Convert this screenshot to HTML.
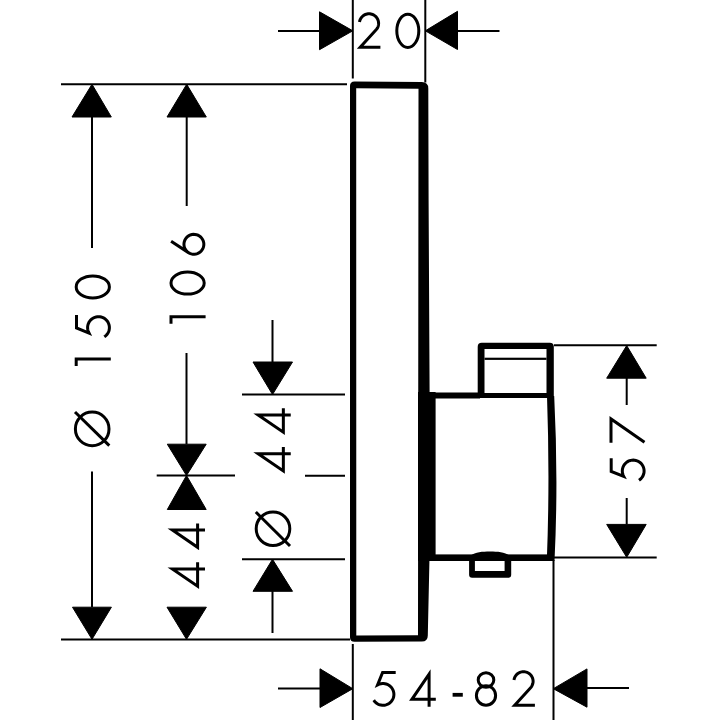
<!DOCTYPE html>
<html><head><meta charset="utf-8"><style>html,body{margin:0;padding:0;background:#fff;width:720px;height:720px;overflow:hidden}svg{display:block}</style></head>
<body><svg width="720" height="720" viewBox="0 0 720 720">
<g stroke="#000" stroke-width="2" fill="none" stroke-linecap="butt">
<line x1="278" y1="31" x2="320" y2="31"/>
<line x1="352.8" y1="0" x2="352.8" y2="78.5"/>
<line x1="425.3" y1="0" x2="425.3" y2="82.5"/>
<line x1="457" y1="31" x2="499.5" y2="31"/>
<line x1="61" y1="84.3" x2="347" y2="84.3"/>
<line x1="61" y1="639.5" x2="350" y2="639.5"/>
<line x1="92" y1="117" x2="92" y2="248"/>
<line x1="92" y1="471.5" x2="92" y2="607"/>
<line x1="186.7" y1="117" x2="186.7" y2="206"/>
<line x1="186.5" y1="353" x2="186.5" y2="444"/>
<line x1="156.7" y1="475.5" x2="235" y2="475.5"/>
<line x1="305" y1="475.7" x2="345" y2="475.7"/>
<line x1="272.5" y1="320" x2="272.5" y2="362"/>
<line x1="242" y1="394.5" x2="345" y2="394.5"/>
<line x1="242" y1="559.3" x2="345" y2="559.3"/>
<line x1="272.5" y1="591" x2="272.5" y2="633"/>
<line x1="554" y1="345.3" x2="656.7" y2="345.3"/>
<line x1="626.7" y1="378" x2="626.7" y2="405"/>
<line x1="626.7" y1="498" x2="626.7" y2="524.4"/>
<line x1="553.5" y1="557.5" x2="656.7" y2="557.5"/>
<line x1="352.8" y1="644" x2="352.8" y2="720"/>
<line x1="553.5" y1="560" x2="553.5" y2="720"/>
<line x1="278" y1="688.5" x2="320" y2="688.5"/>
<line x1="587" y1="688" x2="629" y2="688"/>
<circle cx="92.2" cy="428.9" r="16.8" stroke-width="3"/>
<line x1="75" y1="412" x2="109.3" y2="445.6" stroke-width="3"/>
<circle cx="273" cy="528.8" r="16.8" stroke-width="3"/>
<line x1="255.8" y1="512" x2="290" y2="546" stroke-width="3"/>
</g>
<g fill="#000" stroke="#000" stroke-width="1" stroke-linejoin="round">
<polygon points="319.5,11.8 319.5,49.7 352.8,30.8"/>
<polygon points="457.5,11.3 457.5,49.5 425.3,30.8"/>
<polygon points="92,84.3 72,117 111.3,117"/>
<polygon points="92,639.3 72.5,607.2 111.4,607.2"/>
<polygon points="186.7,84.3 167,117 206.3,117"/>
<polygon points="186.5,475.5 167.3,444.2 206.2,444.2"/>
<polygon points="186.5,475.5 167.3,509.5 206.2,509.5"/>
<polygon points="186.5,639.3 167,607.2 206.4,607.2"/>
<polygon points="272.5,394.5 253,362 292.5,362"/>
<polygon points="272.5,559.3 253,591.3 292.5,591.3"/>
<polygon points="626.7,345.6 606.7,378.2 646.2,378.2"/>
<polygon points="626.7,557.3 606.7,524.4 646.2,524.4"/>
<polygon points="352.8,688.7 320,668.8 320,707.5"/>
<polygon points="553.3,688.7 587,668.9 587,707.2"/>
</g>
<g fill="#000">
<path fill-rule="evenodd" d="M354.5,81.5 L421.8,82 Q428.3,82 428.3,88.5 L428.6,200 L429.6,390 L429.4,562 L427.8,635.5 Q427.8,641.5 421.8,641.5 L354.5,641.8 Q350,641.8 350,637.3 L350,86 Q350,81.5 354.5,81.5 Z M356.2,88.2 L418.5,88.8 L418,635.2 L356.3,635.5 Z"/>
<rect x="418" y="392" width="17.6" height="169"/>
<rect x="428" y="392.5" width="52" height="6"/>
<path fill-rule="evenodd" d="M481.7,342.7 L549.8,342.7 Q553.8,342.7 553.8,346.7 L553.8,398 L477.7,398 L477.7,346.7 Q477.7,342.7 481.7,342.7 Z M484.5,348.9 L546.5,348.9 L546.5,393 L484.5,393 Z"/>
<rect x="484.5" y="357.7" width="62" height="2.2"/>
<path d="M547,396 L554.2,396 Q558.5,480 554.5,561 L546.8,561 Q550,480 547,396 Z"/>
<rect x="428" y="554.4" width="126" height="6.6"/>
<path d="M470,556 C476,552 482,551.6 490,551.6 C498,551.6 504,552 510,556 Z"/>
<path fill-rule="evenodd" d="M469.1,558 L511.2,558 L511.2,574.8 Q511.2,577.8 508.2,577.8 L472.1,577.8 Q469.1,577.8 469.1,574.8 Z M474.9,559.3 L504.6,559.3 L504.6,571 L474.9,571 Z"/>
</g>
<g fill="none" stroke="#000" stroke-width="3" stroke-linecap="butt" stroke-linejoin="miter" stroke-miterlimit="10">
<path transform="translate(357.9,48.8)" d="M1.59,-26.74 L1.76,-27.63 L2.02,-28.51 L2.35,-29.36 L2.77,-30.17 L3.26,-30.94 L3.82,-31.66 L4.45,-32.32 L5.14,-32.92 L5.88,-33.46 L6.67,-33.92 L7.50,-34.30 L8.36,-34.60 L9.24,-34.82 L10.15,-34.95 L11.06,-35.00 L11.97,-34.96 L12.87,-34.83 L13.76,-34.62 L14.63,-34.33 L15.46,-33.95 L16.25,-33.50 L17.00,-32.98 L17.69,-32.38 L18.32,-31.72 L18.89,-31.01 L19.39,-30.24 L19.81,-29.43 L20.15,-28.59 L20.42,-27.71 L20.59,-26.82 L20.69,-25.91 L20.69,-25.00 L20.61,-24.09 L20.44,-23.19 L20.19,-22.31 L19.86,-21.46 L19.44,-20.65 L18.95,-19.88 L18.39,-19.16 L17.77,-18.49 L2.30,-1.50 L22.50,-1.50" stroke-width="3.0"/>
<path transform="translate(395.3,48.8)" d="M23.50,-18.00 A11 16.6 0 1 1 1.50,-18.00 A11 16.6 0 1 1 23.50,-18.00 Z" stroke-width="3.0"/>
<path transform="translate(372.3,706.7)" d="M23.40,-34.30 L10.30,-34.30 L5.25,-21.74 L6.39,-22.31 L7.59,-22.75 L8.83,-23.04 L10.09,-23.18 L11.37,-23.18 L12.63,-23.03 L13.87,-22.73 L15.06,-22.29 L16.20,-21.71 L17.26,-21.01 L18.23,-20.18 L19.10,-19.25 L19.85,-18.22 L20.48,-17.11 L20.97,-15.94 L21.33,-14.71 L21.54,-13.46 L21.60,-12.19 L21.51,-10.91 L21.28,-9.66 L20.90,-8.45 L20.38,-7.28 L19.73,-6.19 L18.95,-5.18 L18.06,-4.26 L17.08,-3.46 L16.00,-2.78 L14.85,-2.22 L13.65,-1.81 L12.41,-1.53 L11.14,-1.41 L9.86,-1.43 L8.60,-1.60 L7.37,-1.92 L6.18,-2.38 L5.05,-2.98 L4.00,-3.70 L3.05,-4.54 L2.19,-5.48 L1.46,-6.52" stroke-width="3.0"/>
<path transform="translate(410.3,706.7)" d="M18.8,0 L18.8,-32.6 L1.6,-7.4 L25.5,-7.4" stroke-width="3.0"/>
<path transform="translate(452.6,706.7)" d="M0,-11.9 L10.2,-11.9" stroke-width="3.8"/>
<path transform="translate(474.9,706.7)" d="M3.3,-26.65 A7.8 7.25 0 1 1 18.9,-26.65 A7.8 7.25 0 1 1 3.3,-26.65 Z M1.5,-11.25 A9.6 9.75 0 1 1 20.7,-11.25 A9.6 9.75 0 1 1 1.5,-11.25 Z" stroke-width="3.0"/>
<path transform="translate(512.4,706.7)" d="M1.59,-26.74 L1.76,-27.63 L2.02,-28.51 L2.35,-29.36 L2.77,-30.17 L3.26,-30.94 L3.82,-31.66 L4.45,-32.32 L5.14,-32.92 L5.88,-33.46 L6.67,-33.92 L7.50,-34.30 L8.36,-34.60 L9.24,-34.82 L10.15,-34.95 L11.06,-35.00 L11.97,-34.96 L12.87,-34.83 L13.76,-34.62 L14.63,-34.33 L15.46,-33.95 L16.25,-33.50 L17.00,-32.98 L17.69,-32.38 L18.32,-31.72 L18.89,-31.01 L19.39,-30.24 L19.81,-29.43 L20.15,-28.59 L20.42,-27.71 L20.59,-26.82 L20.69,-25.91 L20.69,-25.00 L20.61,-24.09 L20.44,-23.19 L20.19,-22.31 L19.86,-21.46 L19.44,-20.65 L18.95,-19.88 L18.39,-19.16 L17.77,-18.49 L2.30,-1.50 L22.50,-1.50" stroke-width="3.0"/>
<path transform="translate(110.8,299.4) rotate(-90)" d="M23.50,-18.00 A11 16.6 0 1 1 1.50,-18.00 A11 16.6 0 1 1 23.50,-18.00 Z"/>
<path transform="translate(110.8,338.3) rotate(-90)" d="M23.40,-34.30 L10.30,-34.30 L5.25,-21.74 L6.39,-22.31 L7.59,-22.75 L8.83,-23.04 L10.09,-23.18 L11.37,-23.18 L12.63,-23.03 L13.87,-22.73 L15.06,-22.29 L16.20,-21.71 L17.26,-21.01 L18.23,-20.18 L19.10,-19.25 L19.85,-18.22 L20.48,-17.11 L20.97,-15.94 L21.33,-14.71 L21.54,-13.46 L21.60,-12.19 L21.51,-10.91 L21.28,-9.66 L20.90,-8.45 L20.38,-7.28 L19.73,-6.19 L18.95,-5.18 L18.06,-4.26 L17.08,-3.46 L16.00,-2.78 L14.85,-2.22 L13.65,-1.81 L12.41,-1.53 L11.14,-1.41 L9.86,-1.43 L8.60,-1.60 L7.37,-1.92 L6.18,-2.38 L5.05,-2.98 L4.00,-3.70 L3.05,-4.54 L2.19,-5.48 L1.46,-6.52"/>
<path transform="translate(110.8,366.1) rotate(-90)" d="M0,-34.6 L7.0,-34.6 L7.0,0"/>
<path transform="translate(205.6,255.7) rotate(-90)" d="M14.50,-34.50 L3.09,-17.17 L2.34,-15.80 L1.81,-14.34 L1.51,-12.80 L1.46,-11.24 L1.65,-9.69 L2.09,-8.19 L2.75,-6.78 L3.63,-5.49 L4.70,-4.35 L5.93,-3.39 L7.30,-2.64 L8.76,-2.11 L10.30,-1.81 L11.86,-1.76 L13.41,-1.95 L14.91,-2.39 L16.32,-3.05 L17.61,-3.93 L18.75,-5.00 L19.71,-6.23 L20.46,-7.60 L20.99,-9.06 L21.29,-10.60 L21.34,-12.16 L21.15,-13.71 L20.71,-15.21 L20.05,-16.62 L19.17,-17.91 L18.10,-19.05 L16.87,-20.01 L15.50,-20.76 L14.04,-21.29 L12.50,-21.59 L10.94,-21.64 L9.39,-21.45 L7.89,-21.01 L6.48,-20.35 L5.19,-19.47 L4.05,-18.40 L3.09,-17.17"/>
<path transform="translate(205.6,295.6) rotate(-90)" d="M23.50,-18.00 A11 16.6 0 1 1 1.50,-18.00 A11 16.6 0 1 1 23.50,-18.00 Z"/>
<path transform="translate(205.6,323.7) rotate(-90)" d="M0,-34.6 L7.0,-34.6 L7.0,0"/>
<path transform="translate(205,548.9) rotate(-90)" d="M18.8,0 L18.8,-32.6 L1.6,-7.4 L25.5,-7.4"/>
<path transform="translate(205,587.8) rotate(-90)" d="M18.8,0 L18.8,-32.6 L1.6,-7.4 L25.5,-7.4"/>
<path transform="translate(290.75,433.75) rotate(-90)" d="M18.8,0 L18.8,-32.6 L1.6,-7.4 L25.5,-7.4"/>
<path transform="translate(290.75,472.5) rotate(-90)" d="M18.8,0 L18.8,-32.6 L1.6,-7.4 L25.5,-7.4"/>
<path transform="translate(645.5,442.8) rotate(-90)" d="M0,-34.5 L23.9,-34.5 L0.6,-1.0"/>
<path transform="translate(645.5,481.7) rotate(-90)" d="M23.40,-34.30 L10.30,-34.30 L5.25,-21.74 L6.39,-22.31 L7.59,-22.75 L8.83,-23.04 L10.09,-23.18 L11.37,-23.18 L12.63,-23.03 L13.87,-22.73 L15.06,-22.29 L16.20,-21.71 L17.26,-21.01 L18.23,-20.18 L19.10,-19.25 L19.85,-18.22 L20.48,-17.11 L20.97,-15.94 L21.33,-14.71 L21.54,-13.46 L21.60,-12.19 L21.51,-10.91 L21.28,-9.66 L20.90,-8.45 L20.38,-7.28 L19.73,-6.19 L18.95,-5.18 L18.06,-4.26 L17.08,-3.46 L16.00,-2.78 L14.85,-2.22 L13.65,-1.81 L12.41,-1.53 L11.14,-1.41 L9.86,-1.43 L8.60,-1.60 L7.37,-1.92 L6.18,-2.38 L5.05,-2.98 L4.00,-3.70 L3.05,-4.54 L2.19,-5.48 L1.46,-6.52"/>
</g>
</svg></body></html>
